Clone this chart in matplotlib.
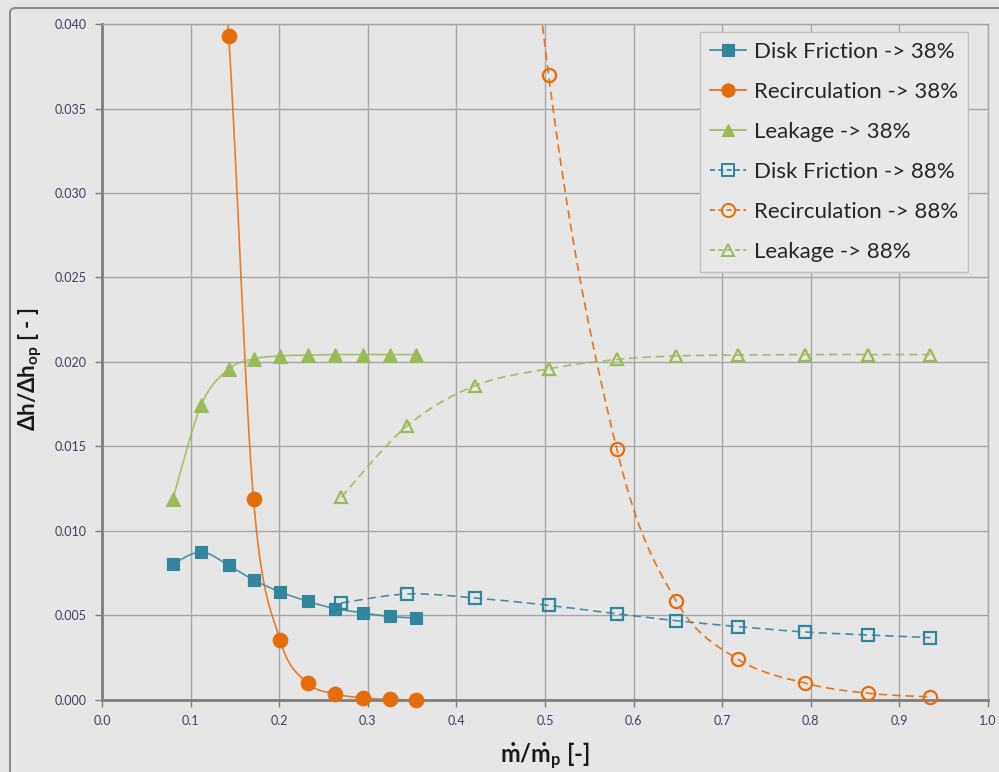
import numpy as np
import matplotlib
matplotlib.use('Agg')
import matplotlib.pyplot as plt
from matplotlib.lines import Line2D
from matplotlib.patches import FancyBboxPatch

plt.rcParams['font.family'] = ['Lato', 'DejaVu Sans']
plt.rcParams['mathtext.fontset'] = 'custom'
plt.rcParams['mathtext.rm'] = 'Lato'
plt.rcParams['mathtext.bf'] = 'Lato:bold'
plt.rcParams['mathtext.it'] = 'Lato:italic'

# operating point 38%
x_38 = [0.080, 0.112, 0.143, 0.171, 0.201, 0.232, 0.263, 0.295, 0.325, 0.354]
disk_38 = [0.00805, 0.00876, 0.00796, 0.00710, 0.00640, 0.00584, 0.00541, 0.00515, 0.00494, 0.00485]
leak_38 = [0.01190, 0.01746, 0.01957, 0.02018, 0.02036, 0.02041, 0.02044, 0.02044, 0.02044, 0.02044]
recirc_x_38 = [0.112, 0.143, 0.171, 0.201, 0.232, 0.263, 0.295, 0.325, 0.354]
recirc_38 = [0.060, 0.0393, 0.01189, 0.00355, 0.00101, 0.00036, 0.00012, 0.00003, 0.0]

# operating point 88%
x_88 = [0.270, 0.344, 0.421, 0.504, 0.581, 0.648, 0.718, 0.794, 0.864, 0.935]
disk_88 = [0.00574, 0.00627, 0.00604, 0.00560, 0.00510, 0.00469, 0.00434, 0.00402, 0.00385, 0.00369]
leak_88 = [0.01200, 0.01620, 0.01860, 0.01960, 0.02015, 0.02036, 0.02041, 0.02044, 0.02044, 0.02044]
recirc_x_88 = [0.421, 0.504, 0.581, 0.648, 0.718, 0.794, 0.864, 0.935]
recirc_88 = [0.080, 0.0370, 0.01485, 0.00586, 0.00240, 0.00099, 0.00040, 0.00018]

x_ticks = np.arange(0, 1.01, 0.1)
y_ticks = np.arange(0, 0.0401, 0.005)

blue = '#31869b'
orange = '#e46c0a'
green = '#9bbb59'


def smooth(x, y, n=30):
    # Bezier smoothing through the points (Catmull-Rom style)
    p = np.column_stack([x, y]).astype(float)
    pts = []
    for i in range(len(p) - 1):
        p0 = p[i - 1] if i > 0 else p[i]
        p3 = p[i + 2] if i + 2 < len(p) else p[i + 1]
        c1 = p[i] + (p[i + 1] - p0) / 6
        c2 = p[i + 1] - (p3 - p[i]) / 6
        t = np.linspace(0, 1, n)[:, None]
        seg = ((1 - t) ** 3 * p[i] + 3 * (1 - t) ** 2 * t * c1
               + 3 * (1 - t) * t ** 2 * c2 + t ** 3 * p[i + 1])
        pts.append(seg)
    pts = np.vstack(pts)
    return pts[:, 0], pts[:, 1]


fig = plt.figure(figsize=(9.99, 7.72), dpi=100, facecolor='#e6e6e6')
ax = fig.add_axes([0.1021, 0.0933, 0.8869, 0.8756])
ax.set_facecolor('#e6e6e6')

# outer chart frame
fig.patches.append(FancyBboxPatch((10 / 999, -0.05), 1.05, 1.05 - 8 / 772,
                                  boxstyle='round,pad=0,rounding_size=0.006',
                                  transform=fig.transFigure, fill=False,
                                  edgecolor='#8c8c8c', lw=1.5))

series = [
    (x_38, disk_38, blue, 's', True, '-', 'Disk Friction -> 38%', 9),
    (recirc_x_38, recirc_38, orange, 'o', True, '-', 'Recirculation -> 38%', 10.5),
    (x_38, leak_38, green, '^', True, '-', 'Leakage -> 38%', 10),
    (x_88, disk_88, blue, 's', False, '--', 'Disk Friction -> 88%', 9),
    (recirc_x_88, recirc_88, orange, 'o', False, '--', 'Recirculation -> 88%', 10.5),
    (x_88, leak_88, green, '^', False, '--', 'Leakage -> 88%', 10),
]

handles = []
for xs, ys, col, mk, filled, ls, label, ms in series:
    sx, sy = smooth(xs, ys)
    line, = ax.plot(sx, sy, color=col, lw=1.2, ls=ls, alpha=0.85 if filled else 0.9)
    if ls == '--':
        line.set_dashes((5, 3))
    xs = np.array(xs)
    ys = np.array(ys)
    inside = ys <= 0.040
    fc = col if filled else 'none'
    ax.plot(xs[inside], ys[inside], ls='none', marker=mk, ms=ms if filled else ms - 1,
            mfc=fc, mec=col, mew=0.8 if filled else 1.6,
            clip_on=False, zorder=3)
    h = Line2D([], [], color=col, lw=1.2, ls=ls, marker=mk, ms=ms - 1,
               mfc=fc, mec=col, mew=0.8 if filled else 1.4)
    if ls == '--':
        h.set_dashes((3, 2))
    handles.append(h)

ax.set_xlim(0, 1.0)
ax.set_ylim(0, 0.040)
ax.set_xticks(x_ticks)
ax.set_yticks(y_ticks)
ax.set_xticklabels([f'{v:.1f}' for v in x_ticks])
ax.set_yticklabels([f'{v:.3f}' for v in y_ticks])
ax.tick_params(labelsize=9, labelcolor='#404060', color='#808080', length=5, width=1)
ax.tick_params(axis='x', pad=6)
ax.tick_params(axis='y', pad=6)
ax.grid(True, color='#a6a6a6', lw=1)
ax.set_axisbelow(True)
for side in ['left', 'bottom']:
    ax.spines[side].set_color('#7f7f7f')
    ax.spines[side].set_linewidth(2)
for side in ['top', 'right']:
    ax.spines[side].set_color('#a6a6a6')
    ax.spines[side].set_linewidth(1)

ax.set_xlabel(r'$\mathbf{\dot{m}/\dot{m}_p}$ [-]', fontsize=17, fontweight='bold',
              color='#1a1a1a', labelpad=10)
ax.set_ylabel(r'$\mathbf{\Delta h/\Delta h_{op}}$ [ - ]', fontsize=16, fontweight='bold',
              color='#1a1a1a', labelpad=12)
ax.yaxis.set_label_coords(-0.066, 0.49)

leg = ax.legend(handles, [s[6] for s in series], loc='upper right',
                bbox_to_anchor=(0.9774, 0.9882), fontsize=16,
                frameon=True, fancybox=False, facecolor='#e8e8e8', edgecolor='#c0c0c0',
                framealpha=1, borderaxespad=0, handlelength=1.6, labelspacing=0.9,
                handletextpad=0.35, borderpad=0.45)
for t in leg.get_texts():
    t.set_color('#262626')

fig.savefig('out.png', dpi=100, facecolor=fig.get_facecolor())
